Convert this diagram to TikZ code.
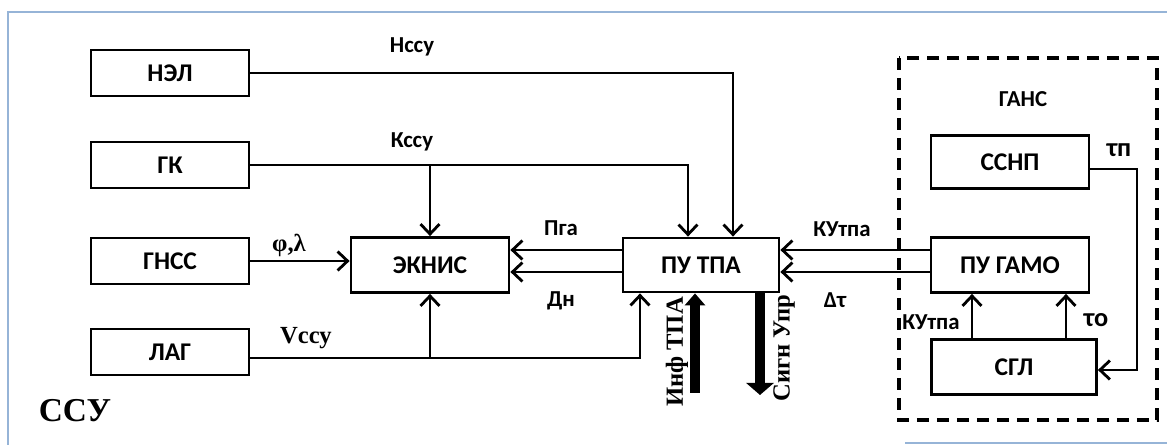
\documentclass[tikz,border=0pt]{standalone}
\usepackage{fontspec}
\setmainfont{Liberation Serif}
\newfontfamily\carlito{Carlito}
\usetikzlibrary{arrows.meta}
\definecolor{framecol}{RGB}{150,180,215}

\begin{document}
\begin{tikzpicture}[x=0.02cm, y=-0.02cm, line width=1.6pt,
  >={Straight Barb[length=0.2cm,width=0.38cm]},
  blk/.style={draw, rectangle, fill=white, minimum width=3.16cm, minimum height=0.92cm, inner sep=0pt,
    font=\carlito\bfseries\fontsize{14.5}{16}\selectfont},
  lbl/.style={inner sep=0pt, font=\carlito\bfseries\fontsize{13}{15}\selectfont},
  srf/.style={inner sep=0pt, font=\bfseries\fontsize{14}{16}\selectfont},
  fat/.style={line width=0.2cm, -{Triangle[width=#1,length=0.24cm]}}]
\useasboundingbox (0,0) rectangle (1167,445);
\draw[framecol, line width=1pt] (1167,12) -- (8,12) -- (8,445);
\draw[framecol, line width=1pt] (905,443) -- (1167,443);

% ГАНС frame
\draw[line width=2pt, dash pattern=on 0.24cm off 0.16cm] (899,58) rectangle (1157,420);

% blocks
\foreach \n/\t/\y in {nel/НЭЛ/73, gk/ГК/165, gnss/ГНСС/261, lag/ЛАГ/352} {
    \node[blk] (\n) at (170,\y) {\t};
}
\node[blk, minimum height=1.1cm] (ekn) at (430,265) {ЭКНИС};
\node[blk, minimum width=3.12cm, minimum height=1.08cm] (tpa) at (701,265) {ПУ ТПА};
\node[blk, minimum height=1.1cm] (gamo) at (1010,265) {ПУ ГАМО};
\node[blk, minimum height=1.06cm] (ssnp) at (1010,162) {ССНП};
\node[blk, minimum width=3.3cm, minimum height=1.1cm] (sgl) at (1014,367) {СГЛ};

% helper coordinates
\coordinate (xn) at (733,0);
\coordinate (xk) at (688,0);
\coordinate (xl) at (640,0);
\coordinate (xr) at (1137,0);
\coordinate (xs1) at (972,0);
\coordinate (xs2) at (1066,0);
\coordinate (ya) at (0,250);
\coordinate (yb) at (0,272);
\coordinate (yl) at (0,358);
\coordinate (yp) at (0,169);
\coordinate (yg) at (0,370);

% connectors
\draw[->] (nel.east) -| (xn |- tpa.north);
\draw[->] (gk.east) -| (xk |- tpa.north);
\draw[->] (gk.east -| ekn.north) -- (ekn.north);
\draw[->] (gnss.east) -- (ekn.west |- gnss.east);
\draw[->] (lag.east |- yl) -| (xl |- tpa.south);
\draw[->] (ekn.south |- yl) -- (ekn.south);
\foreach \y in {ya,yb} {
    \draw[->] (tpa.west |- \y) -- (ekn.east |- \y);
    \draw[->] (gamo.west |- \y) -- (tpa.east |- \y);
}
\draw[->] (ssnp.east |- yp) -| (xr |- yg) -- (sgl.east |- yg);
\draw[->] (xs1 |- sgl.north) -- (xs1 |- gamo.south);
\draw[->] (xs2 |- sgl.north) -- (xs2 |- gamo.south);

% thick arrows
\coordinate (inf) at (695,393);
\coordinate (sig) at (760,395);
\draw[fat=0.4cm] (inf) -- (inf |- tpa.south);
\draw[fat=0.54cm] (sig |- tpa.south) -- (sig);

% labels
\node[lbl] (hssu) at (412,47) {Нссу};
\node[lbl] (kssu) at (412,142) {Кссу};
\node[srf] (fila) at (289,245) {φ,λ};
\node[srf] (vssu) at (306,338) {Vссу};
\node[lbl] (pga) at (561,228) {Пга};
\node[lbl] (dn) at (561,301) {Дн};
\node[lbl] (kut1) at (842,229) {КУтпа};
\node[lbl] (dtau) at (835,300) {Δτ};
\node[lbl] (kut2) at (931,322) {КУтпа};
\node[lbl, font=\carlito\bfseries\fontsize{15}{17}\selectfont] (tauo) at (1096,320) {τо};
\node[lbl, font=\carlito\bfseries\fontsize{15}{17}\selectfont] (taup) at (1119,150) {τп};
\node[lbl] (gans) at (1023,99) {ГАНС};
\node[srf, rotate=90] (inftpa) at (677,352) {Инф ТПА};
\node[srf, rotate=90] (signupr) at (784,348) {Сигн Упр};
\node[inner sep=0pt, font=\bfseries\fontsize{19}{21}\selectfont] (ssu) at (75,411) {ССУ};
\end{tikzpicture}
\end{document}
